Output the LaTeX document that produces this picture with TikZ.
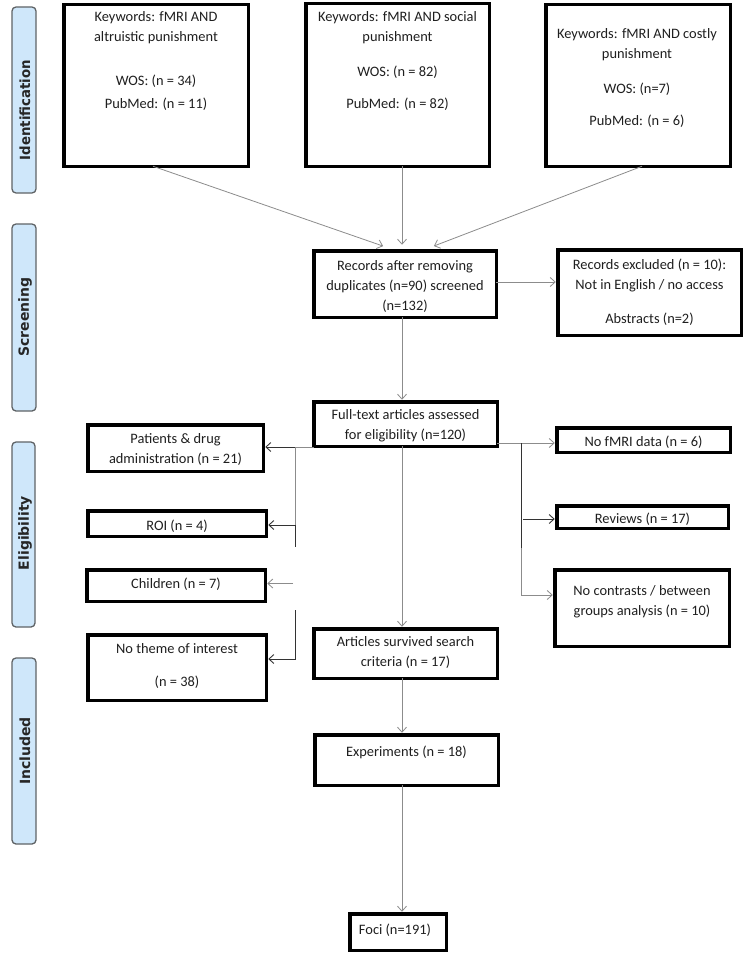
\documentclass[tikz,border=0pt]{standalone}
\usepackage{fontspec}
\setmainfont{Carlito}
\newfontfamily\barfont{DejaVu Sans}
\usetikzlibrary{arrows.meta}
\definecolor{barblue}{HTML}{CFE7FA}
\definecolor{bardraw}{HTML}{5F6366}
\begin{document}
\begin{tikzpicture}[x=1pt,y=-1pt,
  box/.style={draw=black, line width=3.5pt, outer sep=0pt, inner sep=0pt},
  txt/.style={font=\fontsize{14.4}{20}\selectfont, align=center, inner sep=0pt, text=black!88},
  bar/.style={draw=bardraw, line width=1.3pt, fill=barblue, rounded corners=4pt},
  barlab/.style={font=\barfont\bfseries\fontsize{14}{16}\selectfont, rotate=90, text=black!85, inner sep=0pt},
  gy/.style={draw=black!45, line width=0.8pt},
  dk/.style={draw=black!80, line width=0.9pt},
  conn/.style={-{Straight Barb[length=5pt,width=9pt]}, shorten >=2pt}
]
\useasboundingbox (0,0) rectangle (745,955);
\fill[white] (0,0) rectangle (745,955);

% side bars
\draw[bar] (12,7) rectangle (36,193);
\draw[bar] (12,224) rectangle (36,411);
\draw[bar] (12,442) rectangle (35,627);
\draw[bar] (12,658) rectangle (36,844);
\node[barlab] (lid) at (25,110) {\scalebox{0.95}[1]{Identification}};
\node[barlab] (lsc) at (25,317) {Screening};
\node[barlab] (lel) at (25,533) {Eligibility};
\node[barlab] (lin) at (25,751) {Included};

% boxes
\node[box, minimum width=184.5, minimum height=161.5] (k1) at (156,85.5) {};
\node[box, minimum width=183.5, minimum height=162.5] (k2) at (397.5,85) {};
\node[box, minimum width=184.5, minimum height=161.5] (k3) at (638,85.5) {};
\node[box, minimum width=182.5, minimum height=66.5] (rec) at (405,284) {};
\node[box, minimum width=183.5, minimum height=85.5] (excl) at (649.5,292.5) {};
\node[box, minimum width=183.5, minimum height=44.5] (full) at (405.5,424) {};
\node[box, minimum width=173.5, minimum height=24.5] (nofmri) at (643.5,440) {};
\node[box, minimum width=171.5, minimum height=22.5] (rev) at (642.5,517) {};
\node[box, minimum width=174.5, minimum height=76.5] (nocon) at (642,608) {};
\node[box, minimum width=175.5, minimum height=46.5] (pat) at (175.5,448) {};
\node[box, minimum width=178.5, minimum height=25.5] (roi) at (177,523.5) {};
\node[box, minimum width=178.5, minimum height=31.5] (child) at (176,585.5) {};
\node[box, minimum width=178.5, minimum height=65.5] (notheme) at (177,667.5) {};
\node[box, minimum width=183.5, minimum height=49.5] (surv) at (405.5,653.5) {};
\node[box, minimum width=183.5, minimum height=50.5] (exp) at (406.5,760) {};
\node[box, minimum width=96.5, minimum height=36.5] (foci) at (398,932) {};

% texts
\node[txt] (t1a) at (156,28) {Keywords: fMRI AND\\altruistic punishment};
\node[txt] (t1b) at (156,81) {WOS: (n = 34)};
\node[txt] (t1c) at (156,104) {PubMed: (n = 11)};
\node[txt] (t2a) at (397.5,27.5) {Keywords: fMRI AND social\\punishment};
\node[txt] (t2b) at (397.5,72) {WOS: (n = 82)};
\node[txt] (t2c) at (397.5,104) {PubMed: (n = 82)};
\node[txt] (t3a) at (637,44.5) {Keywords: fMRI AND costly\\punishment};
\node[txt] (t3b) at (637,89) {WOS: (n=7)};
\node[txt] (t3c) at (637,121) {PubMed: (n = 6)};
\node[txt] (trec) at (405,286) {Records after removing\\duplicates (n=90) screened\\(n=132)};
\node[txt] (texa) at (649.5,275.5) {Records excluded (n = 10):\\Not in English / no access};
\node[txt] (texb) at (649.5,319) {Abstracts (n=2)};
\node[txt] (tfull) at (405.5,425.5) {Full-text articles assessed\\for eligibility (n=120)};
\node[txt] (tnof) at (643.5,442) {No fMRI data (n = 6)};
\node[txt] (trev) at (642.5,519) {Reviews (n = 17)};
\node[txt] (tnoc) at (642,601.5) {No contrasts / between\\groups analysis (n = 10)};
\node[txt] (tpat) at (175.5,449.5) {Patients \& drug\\administration (n = 21)};
\node[txt] (troi) at (177,526) {ROI (n = 4)};
\node[txt] (tchi) at (176,584) {Children (n = 7)};
\node[txt] (tnta) at (177,649) {No theme of interest};
\node[txt] (tntb) at (177,682) {(n = 38)};
\node[txt] (tsur) at (405.5,652.5) {Articles survived search\\criteria (n = 17)};
\node[txt] (texp) at (406.5,752) {Experiments (n = 18)};
\node[txt] (tfoc) at (395,930) {Foci (n=191)};

% helper coordinates
\coordinate (col) at (402,0);
\coordinate (rectop) at ([yshift=4pt]rec.north);
\coordinate (rb) at (521,0);
\coordinate (rmid) at (521,548);
\coordinate (rbend) at (521,595);
\coordinate (lb) at (295,0);
\coordinate (lmid) at (295,547);
\coordinate (lb2) at (295,610);

% identification -> screening
\draw[gy,conn] ([xshift=-3pt]k1.south) -- ([xshift=-20pt]rectop);
\draw[gy,conn] (k2.south -| col) -- (rectop -| col);
\draw[gy,conn] ([xshift=4pt]k3.south) -- ([xshift=27pt]rectop);
\draw[gy,conn] ([yshift=2pt]rec.east) -- ([yshift=2pt]rec.east -| excl.west);
\draw[gy,conn] (rec.south -| col) -- (full.north -| col);

% right branch
\draw[gy,conn] ([yshift=-3pt]nofmri.west -| full.east) -- ([yshift=-3pt]nofmri.west);
\draw[dk] ([yshift=-3pt]nofmri.west -| rb) -- (rmid);
\draw[gy] (rmid) -- (rbend);
\draw[dk,conn] ([xshift=2pt,yshift=-2pt]rev.west -| rb) -- ([yshift=-2pt]rev.west);
\draw[gy,conn] (rbend) -- (rbend -| nocon.west);

% left branch
\draw[gy] ([yshift=1pt]pat.east -| full.west) -- ([yshift=1pt]pat.east -| lb);
\draw[dk,conn] ([yshift=1pt]pat.east -| lb) -- ([yshift=1pt]pat.east);
\draw[gy] ([yshift=1pt]pat.east -| lb) -- ([yshift=-1.5pt]roi.east -| lb);
\draw[dk] ([yshift=-1.5pt]roi.east -| lb) -- (lmid);
\draw[dk,conn] ([yshift=-1.5pt]roi.east -| lb) -- ([yshift=-1.5pt]roi.east);
\draw[gy,conn] ([xshift=-2pt,yshift=2pt]child.east -| lb) -- ([yshift=2pt]child.east);
\draw[dk,conn] (lb2) |- ([yshift=8.5pt]notheme.east);

% main column
\draw[gy,conn] (full.south -| col) -- (surv.north -| col);
\draw[gy,conn] (surv.south -| col) -- (exp.north -| col);
\draw[gy,conn] (exp.south -| col) -- (foci.north -| col);
\end{tikzpicture}
\end{document}
